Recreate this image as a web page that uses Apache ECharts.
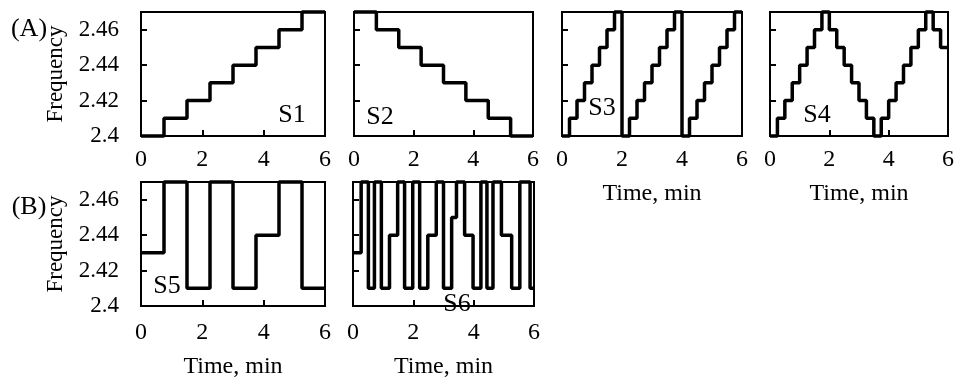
<!DOCTYPE html>
<html>
<head>
<meta charset="utf-8">
<script src="https://cdn.jsdelivr.net/npm/echarts@6/dist/echarts.min.js"></script>
<style>
  html, body { margin: 0; padding: 0; background: #fff; }
  #chart { width: 957px; height: 383px; }
</style>
</head>
<body>
<div id="chart"></div>
<script>
// frequency sweep schedules, time in min, frequency held until next time
const s1Time = [0, 0.75, 1.5, 2.25, 3, 3.75, 4.5, 5.25, 6];
const s1Freq = [2.40, 2.41, 2.42, 2.43, 2.44, 2.45, 2.46, 2.47, 2.47];

const s2Time = [0, 0.75, 1.5, 2.25, 3, 3.75, 4.5, 5.25, 6];
const s2Freq = [2.47, 2.46, 2.45, 2.44, 2.43, 2.42, 2.41, 2.40, 2.40];

const s3Time = [0, 0.25, 0.5, 0.75, 1, 1.25, 1.5, 1.75, 2, 2.25, 2.5, 2.75, 3, 3.25, 3.5, 3.75, 4, 4.25, 4.5, 4.75, 5, 5.25, 5.5, 5.75, 6];
const s3Freq = [2.40, 2.41, 2.42, 2.43, 2.44, 2.45, 2.46, 2.47, 2.40, 2.41, 2.42, 2.43, 2.44, 2.45, 2.46, 2.47, 2.40, 2.41, 2.42, 2.43, 2.44, 2.45, 2.46, 2.47, 2.47];

const s4Time = [0, 0.25, 0.5, 0.75, 1, 1.25, 1.5, 1.75, 2, 2.25, 2.5, 2.75, 3, 3.25, 3.5, 3.75, 4, 4.25, 4.5, 4.75, 5, 5.25, 5.5, 5.75, 6];
const s4Freq = [2.40, 2.41, 2.42, 2.43, 2.44, 2.45, 2.46, 2.47, 2.46, 2.45, 2.44, 2.43, 2.42, 2.41, 2.40, 2.41, 2.42, 2.43, 2.44, 2.45, 2.46, 2.47, 2.46, 2.45, 2.45];

const s5Time = [0, 0.75, 1.5, 2.25, 3, 3.75, 4.5, 5.25, 6];
const s5Freq = [2.43, 2.47, 2.41, 2.47, 2.41, 2.44, 2.47, 2.41, 2.41];

const s6Time = [0, 0.27, 0.51, 0.71, 0.94, 1.21, 1.48, 1.71, 1.98, 2.21, 2.48, 2.76, 3.0, 3.27, 3.43, 3.7, 3.98, 4.24, 4.44, 4.64, 4.92, 5.26, 5.53, 5.87, 6];
const s6Freq = [2.43, 2.47, 2.41, 2.47, 2.41, 2.44, 2.47, 2.41, 2.47, 2.41, 2.44, 2.47, 2.41, 2.45, 2.47, 2.44, 2.41, 2.47, 2.41, 2.47, 2.44, 2.41, 2.47, 2.41, 2.41];

const panelNames = ["S1", "S2", "S3", "S4", "S5", "S6"];
const rowNames = ["(A)", "(B)"];

const FONT = "'Liberation Serif', 'Times New Roman', serif";

// panel boxes: left, top, width, height (px)
const panels = [
  { left: 141, top: 12, width: 184, height: 124, yLab: true, xName: false, gap: 12, times: s1Time, freq: s1Freq },
  { left: 354, top: 12, width: 179, height: 124, yLab: false, xName: false, gap: 12, times: s2Time, freq: s2Freq },
  { left: 562, top: 12, width: 180, height: 124, yLab: false, xName: true, gap: 12, times: s3Time, freq: s3Freq },
  { left: 770, top: 12, width: 180, height: 124, yLab: false, xName: true, gap: 12, times: s4Time, freq: s4Freq },
  { left: 141, top: 182, width: 184, height: 124, yLab: true, xName: true, gap: 15, times: s5Time, freq: s5Freq },
  { left: 353, top: 182, width: 181, height: 124, yLab: false, xName: true, gap: 15, times: s6Time, freq: s6Freq }
];

// label spots for S1..S6 (px, center)
const labelPos = [[292, 115], [380, 117], [602, 108], [817, 115], [167, 286], [457, 304]];

let grid = [], xAxis = [], yAxis = [], series = [];
panels.forEach((p, i) => {
  grid.push({
    left: p.left, top: p.top, width: p.width, height: p.height,
    show: true, borderColor: "#000", borderWidth: 2, backgroundColor: "transparent"
  });
  xAxis.push({
    gridIndex: i,
    type: "value",
    min: 0, max: 6, interval: 2,
    name: p.xName ? "Time, min" : "",
    nameLocation: "middle",
    nameGap: i < 4 ? 46 : 49,
    nameTextStyle: { fontFamily: FONT, fontSize: 24, color: "#000" },
    axisLine: { show: true, onZero: false, lineStyle: { color: "#000", width: 2 } },
    axisTick: { show: true, inside: true, length: 6, lineStyle: { color: "#000", width: 2 } },
    axisLabel: { show: true, margin: p.gap, fontFamily: FONT, fontSize: 24, color: "#000" },
    splitLine: { show: false }
  });
  yAxis.push({
    gridIndex: i,
    type: "value",
    min: 2.4, max: 2.47, interval: 0.02,
    name: p.yLab ? "Frequency" : "",
    nameLocation: "middle",
    nameGap: 74,
    nameTextStyle: { fontFamily: FONT, fontSize: 23, color: "#000" },
    axisLine: { show: true, onZero: false, lineStyle: { color: "#000", width: 2 } },
    axisTick: { show: true, inside: true, length: 6, lineStyle: { color: "#000", width: 2 } },
    axisLabel: {
      show: p.yLab, margin: 22, fontFamily: FONT, fontSize: 23, color: "#000",
      showMaxLabel: false,
      formatter: v => (Math.abs(v - 2.47) < 1e-6 ? "" : String(+v.toFixed(2)))
    },
    splitLine: { show: false }
  });
  series.push({
    type: "line",
    xAxisIndex: i, yAxisIndex: i,
    step: "end",
    showSymbol: false,
    clip: false,
    lineStyle: { color: "#000", width: 3.5 },
    data: p.times.map((t, k) => [t, p.freq[k]])
  });
});

let graphic = panelNames.map((n, i) => ({
  type: "text",
  x: labelPos[i][0], y: labelPos[i][1],
  style: { text: n, fontFamily: FONT, fontSize: 26, fill: "#000", align: "center", verticalAlign: "middle" },
  z: 100
}));
graphic.push(
  { type: "text", x: 29, y: 29, style: { text: rowNames[0], fontFamily: FONT, fontSize: 26, fill: "#000", align: "center", verticalAlign: "middle" } },
  { type: "text", x: 29, y: 207, style: { text: rowNames[1], fontFamily: FONT, fontSize: 26, fill: "#000", align: "center", verticalAlign: "middle" } }
);

const chart = echarts.init(document.getElementById("chart"), null, { renderer: "canvas" });
chart.setOption({
  animation: false,
  backgroundColor: "#fff",
  grid: grid,
  xAxis: xAxis,
  yAxis: yAxis,
  series: series,
  graphic: graphic
});
</script>
</body>
</html>
